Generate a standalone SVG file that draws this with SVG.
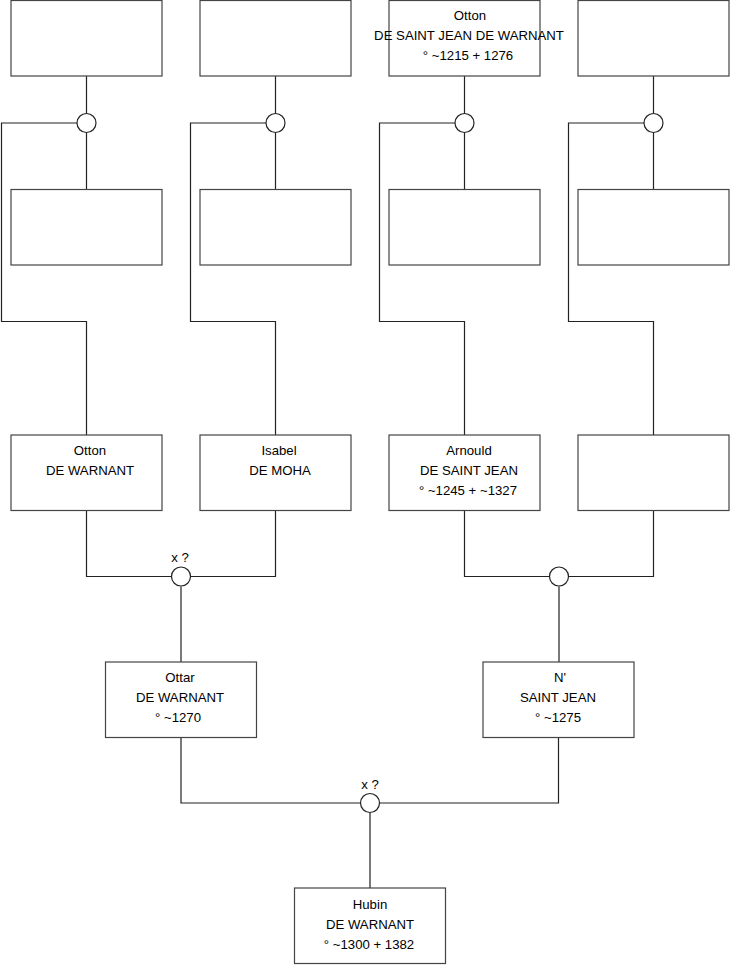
<svg xmlns="http://www.w3.org/2000/svg" width="740" height="975" viewBox="0 0 740 975">
<style>
.box{fill:#fff;stroke:#444;stroke-width:1.2}
.ln{fill:none;stroke:#222;stroke-width:1.2}
.u{fill:#fff;stroke:#222;stroke-width:1.2}
text{font-family:"Liberation Sans",Arial,sans-serif;font-size:13.2px;fill:#000;text-anchor:middle}
</style>
<rect width="740" height="975" fill="#fff"/>
<g id="connectors">
<path class="ln" d="M86.5,76V189M77,123H1.5V321.5H86.5V435"/>
<path class="ln" d="M275.5,76V189M266,123H190.5V321.5H275.5V435"/>
<path class="ln" d="M464.5,76V189M455,123H379.5V321.5H464.5V435"/>
<path class="ln" d="M653.5,76V189M644,123H568.5V321.5H653.5V435"/>
<path class="ln" d="M86.5,510V576.5H171M191,576.5H275.5V510M181,586.5V662"/>
<path class="ln" d="M464.5,510V576.5H549M569,576.5H653.5V510M559,586.5V662"/>
<path class="ln" d="M181,737V803H360M380,803H558.5V737M370,813V888"/>
</g>
<g id="u1"><circle class="u" cx="86.5" cy="123" r="9.5"/></g>
<g id="u2"><circle class="u" cx="275.5" cy="123" r="9.5"/></g>
<g id="u3"><circle class="u" cx="464.5" cy="123" r="9.5"/></g>
<g id="u4"><circle class="u" cx="653.5" cy="123" r="9.5"/></g>
<g id="u5"><circle class="u" cx="181" cy="576.5" r="9.5"/><text x="180" y="562">x ?</text></g>
<g id="u6"><circle class="u" cx="559" cy="576.5" r="9.5"/></g>
<g id="u7"><circle class="u" cx="370" cy="803" r="9.5"/><text x="370" y="789">x ?</text></g>
<g id="n1"><rect class="box" x="11" y="0.5" width="151" height="75.5"/></g>
<g id="n2"><rect class="box" x="200" y="0.5" width="151" height="75.5"/></g>
<g id="n3"><rect class="box" x="389" y="0.5" width="151" height="75.5"/><text x="470" y="20">Otton</text><text x="469" y="40">DE SAINT JEAN DE WARNANT</text><text x="468" y="60">° ~1215 + 1276</text></g>
<g id="n4"><rect class="box" x="578" y="0.5" width="151" height="75.5"/></g>
<g id="n5"><rect class="box" x="11" y="189.5" width="151" height="75.5"/></g>
<g id="n6"><rect class="box" x="200" y="189.5" width="151" height="75.5"/></g>
<g id="n7"><rect class="box" x="389" y="189.5" width="151" height="75.5"/></g>
<g id="n8"><rect class="box" x="578" y="189.5" width="151" height="75.5"/></g>
<g id="n9"><rect class="box" x="11" y="435" width="151" height="75.5"/><text x="90" y="455">Otton</text><text x="90" y="475">DE WARNANT</text></g>
<g id="n10"><rect class="box" x="200" y="435" width="151" height="75.5"/><text x="279" y="455">Isabel</text><text x="280" y="475">DE MOHA</text></g>
<g id="n11"><rect class="box" x="389" y="435" width="151" height="75.5"/><text x="469" y="455">Arnould</text><text x="469" y="475">DE SAINT JEAN</text><text x="468" y="495">° ~1245 + ~1327</text></g>
<g id="n12"><rect class="box" x="578" y="435" width="151" height="75.5"/></g>
<g id="n13"><rect class="box" x="105.5" y="662" width="151" height="75.5"/><text x="180" y="682">Ottar</text><text x="180" y="702">DE WARNANT</text><text x="178" y="722">° ~1270</text></g>
<g id="n14"><rect class="box" x="483" y="662" width="151" height="75.5"/><text x="560" y="682">N'</text><text x="558" y="702">SAINT JEAN</text><text x="558" y="722">° ~1275</text></g>
<g id="n15"><rect class="box" x="294.5" y="888" width="151" height="75.5"/><text x="370" y="909">Hubin</text><text x="370" y="929">DE WARNANT</text><text x="369" y="949">° ~1300 + 1382</text></g>
</svg>
